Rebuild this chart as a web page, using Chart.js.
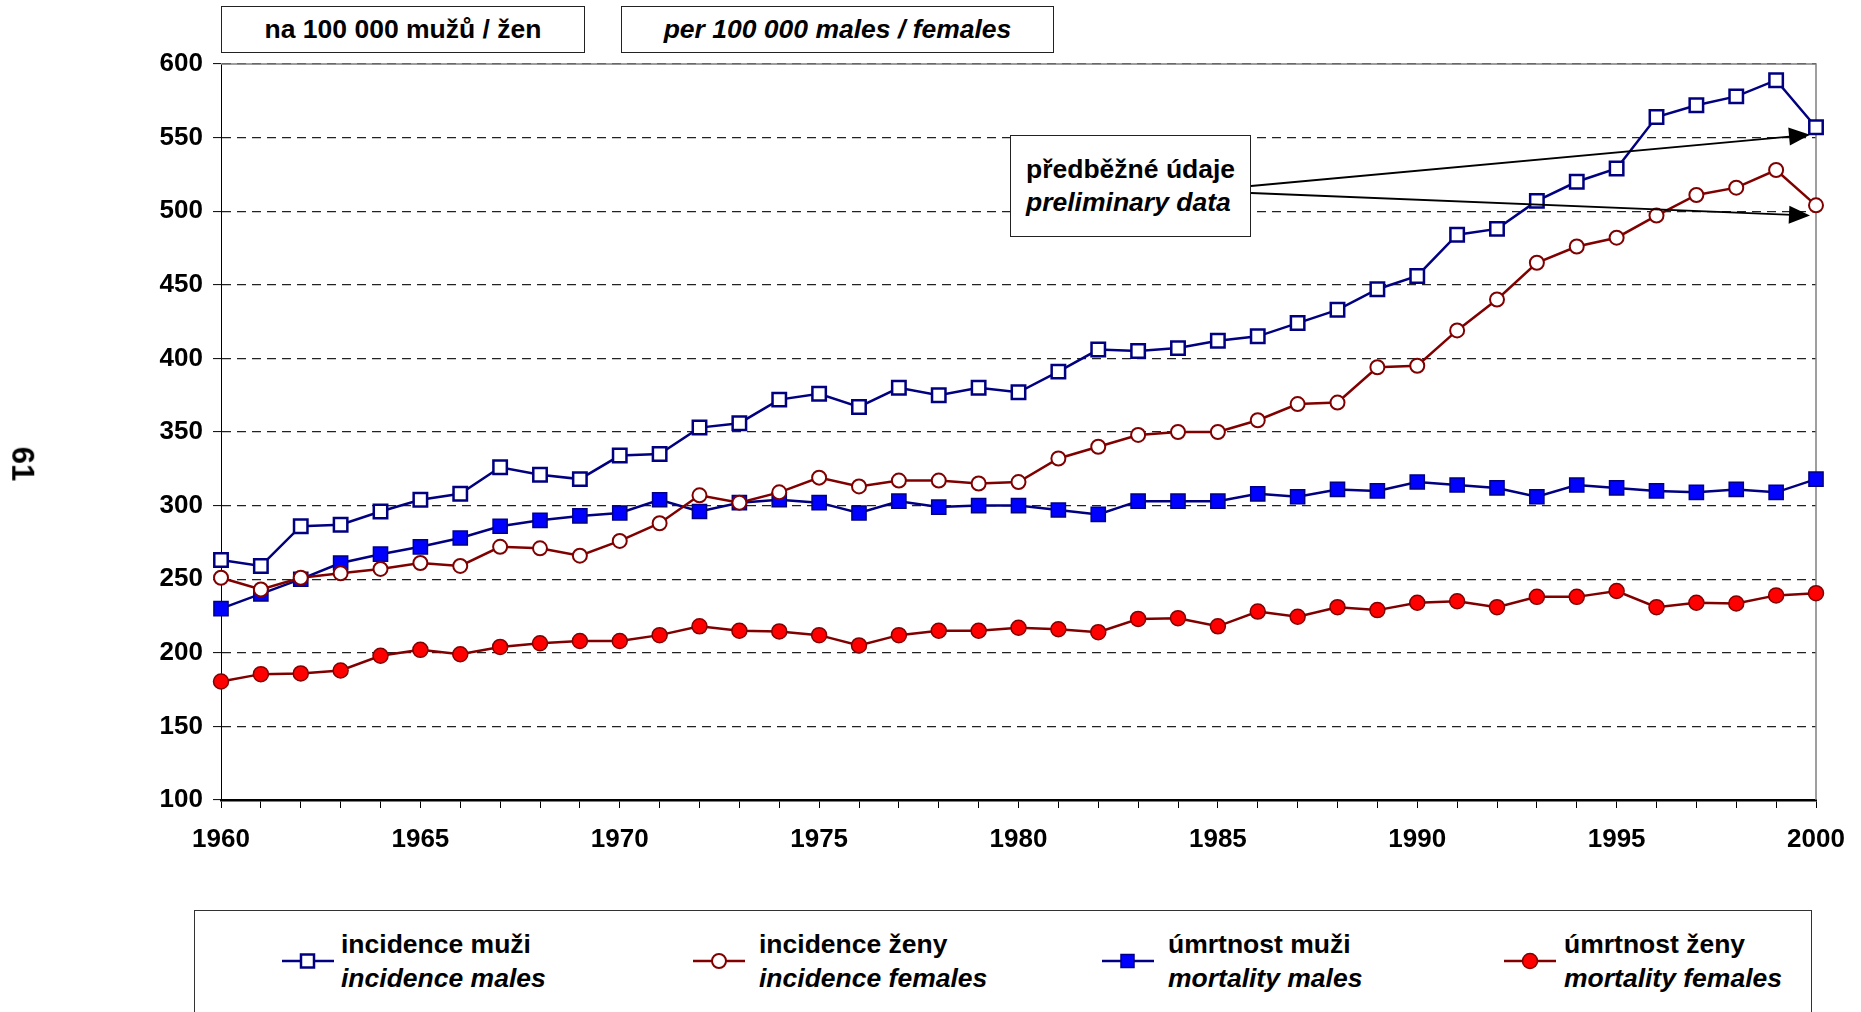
<!DOCTYPE html>
<html>
<head>
<meta charset="utf-8">
<script src="https://cdn.jsdelivr.net/npm/chart.js@4.4.0/dist/chart.umd.min.js"></script>
<style>
  body { margin: 0; background: #fff; font-family: "Liberation Sans", Arial, sans-serif; }
  #wrap { position: relative; width: 1861px; height: 1012px; overflow: hidden; }
  canvas { position: absolute; left: 0; top: 0; }
  .box { position: absolute; border: 1.5px solid #222; background: #fff; box-sizing: border-box;
         font-weight: bold; font-size: 26.5px; color: #000; }
  .top { top: 6px; height: 47px; line-height: 44px; text-align: center; }
  .note { left: 1010px; top: 135px; width: 241px; height: 102px; padding: 17px 0 0 15px; line-height: 33px; }
  .legend { left: 194px; top: 910px; width: 1618px; height: 130px; border-color: #333; }
  .item { position: absolute; top: 16px; line-height: 34px; }
  .item svg { position: absolute; top: 24px; }
  .page { position: absolute; left: 5px; top: 446px; font-weight: bold; font-size: 31px; transform: rotate(90deg); }
  i { font-style: italic; }
</style>
</head>
<body>
<div id="wrap">
  <canvas id="chart" width="1861" height="1012"></canvas>
  <div class="box top" style="left:221px;width:364px;">na 100 000 mužů / žen</div>
  <div class="box top" style="left:621px;width:433px;"><i>per 100 000 males / females</i></div>
  <div class="box note">předběžné údaje<br><i>preliminary data</i></div>
  <div class="box legend" id="legend"></div>
  <div class="page">61</div>
</div>
<script>
// years and values (per 100 000)
const years = [];
for (let y = 1960; y <= 2000; y++) years.push(y);

const incidenceMales = [263, 259, 286, 287, 296, 304, 308, 326, 321, 318,
  334, 335, 353, 356, 372, 376, 367, 380, 375, 380,
  377, 391, 406, 405, 407, 412, 415, 424, 433, 447,
  456, 484, 488, 507, 520, 529, 564, 572, 578, 589, 557];

const incidenceFemales = [251, 243, 251, 254, 257, 261, 259, 272, 271, 266,
  276, 288, 307, 302, 309, 319, 313, 317, 317, 315,
  316, 332, 340, 348, 350, 350, 358, 369, 370, 394,
  395, 419, 440, 465, 476, 482, 497, 511, 516, 528, 504];

const mortalityMales = [230, 240, 250, 261, 267, 272, 278, 286, 290, 293,
  295, 304, 296, 302, 304, 302, 295, 303, 299, 300,
  300, 297, 294, 303, 303, 303, 308, 306, 311, 310,
  316, 314, 312, 306, 314, 312, 310, 309, 311, 309, 318];

const mortalityFemales = [180.5, 185.5, 186, 188, 198, 202, 199, 204, 206.5, 208,
  208, 212, 218, 215, 214.5, 212, 205, 212, 215, 215,
  217, 216, 214, 223, 223.5, 218, 228, 224.5, 231, 229,
  234, 235, 231, 238, 238, 242, 231, 234, 233.5, 239, 240.5];

const labelsCz = ['incidence muži', 'incidence ženy', 'úmrtnost muži', 'úmrtnost ženy'];
const labelsEn = ['incidence males', 'incidence females', 'mortality males', 'mortality females'];
const yTicks = [100, 150, 200, 250, 300, 350, 400, 450, 500, 550, 600];

const navy = '#000080', darkRed = '#800000';
const font = { family: '"Liberation Sans", Arial, sans-serif', size: 26, weight: 'bold' };

// gray frame on top/right plus the two "preliminary data" arrows
const extras = {
  id: 'extras',
  beforeDatasetsDraw(chart) {
    const { ctx, chartArea: a } = chart;
    ctx.save();
    ctx.strokeStyle = '#808080';
    ctx.lineWidth = 1.5;
    ctx.beginPath();
    ctx.moveTo(a.left, a.top);
    ctx.lineTo(a.right, a.top);
    ctx.lineTo(a.right, a.bottom);
    ctx.stroke();
    ctx.restore();
  },
  afterDraw(chart) {
    const { ctx } = chart;
    const x = chart.scales.x.getPixelForValue(years.length - 1) - 6;
    const tips = [[1251, 186, chart.scales.y.getPixelForValue(552)],
                  [1251, 193, chart.scales.y.getPixelForValue(497)]];
    ctx.save();
    ctx.strokeStyle = '#000';
    ctx.fillStyle = '#000';
    ctx.lineWidth = 1.8;
    tips.forEach(([sx, sy, ty]) => {
      const ang = Math.atan2(ty - sy, x - sx);
      ctx.beginPath();
      ctx.moveTo(sx, sy);
      ctx.lineTo(x - 18 * Math.cos(ang), ty - 18 * Math.sin(ang));
      ctx.stroke();
      ctx.beginPath();
      ctx.moveTo(x, ty);
      ctx.lineTo(x - 21 * Math.cos(ang) + 9 * Math.sin(ang), ty - 21 * Math.sin(ang) - 9 * Math.cos(ang));
      ctx.lineTo(x - 21 * Math.cos(ang) - 9 * Math.sin(ang), ty - 21 * Math.sin(ang) + 9 * Math.cos(ang));
      ctx.closePath();
      ctx.fill();
    });
    ctx.restore();
  }
};

const styles = [
  { color: navy, bg: '#fff', shape: 'rect', r: 9.5, bw: 2.5 },
  { color: darkRed, bg: '#fff', shape: 'circle', r: 7, bw: 2 },
  { color: navy, bg: '#0000FF', shape: 'rect', r: 10, bw: 1.5 },
  { color: darkRed, bg: '#FF0000', shape: 'circle', r: 7.5, bw: 1.5 }
];
const series = [incidenceMales, incidenceFemales, mortalityMales, mortalityFemales];

new Chart(document.getElementById('chart'), {
  type: 'line',
  data: {
    labels: years,
    datasets: series.map((d, i) => ({
      label: labelsCz[i],
      data: d,
      borderColor: styles[i].color,
      borderWidth: 2.5,
      pointStyle: styles[i].shape,
      pointRadius: styles[i].r,
      pointBackgroundColor: styles[i].bg,
      pointBorderColor: styles[i].color,
      pointBorderWidth: styles[i].bw,
      tension: 0
    }))
  },
  options: {
    responsive: false,
    animation: false,
    devicePixelRatio: 1,
    layout: { padding: { left: 0, top: 64, right: 45, bottom: 112 } },
    plugins: { legend: { display: false }, tooltip: { enabled: false } },
    scales: {
      x: {
        offset: false,
        afterFit(s) { s.height = 100; },
        grid: { drawOnChartArea: false, drawTicks: true, tickLength: 8, tickColor: '#000', tickWidth: 1 },
        border: { color: '#000', width: 2.5 },
        ticks: {
          autoSkip: false, maxRotation: 0, padding: 16, color: '#000', font,
          callback(v, i) { return years[i] % 5 === 0 ? String(years[i]) : ''; }
        }
      },
      y: {
        min: 100, max: 600,
        afterFit(s) { s.width = 221; },
        afterBuildTicks(s) { s.ticks = yTicks.map(v => ({ value: v })); },
        grid: { color: '#222', lineWidth: 1.2, tickLength: 8, tickColor: '#000', tickWidth: 1, tickBorderDash: [] },
        border: { color: '#000', width: 1, dash: [9, 6] },
        ticks: { padding: 10, color: '#000', font }
      }
    }
  },
  plugins: [extras]
});

// legend built as html, two lines per item
const legend = document.getElementById('legend');
const legendX = [87, 498, 907, 1309];
const textGap = [59, 66, 66, 60];
styles.forEach((s, i) => {
  const item = document.createElement('div');
  item.className = 'item';
  item.style.left = legendX[i] + 'px';
  const mk = s.shape === 'rect'
    ? `<rect x="19" y="3.5" width="13" height="13" fill="${s.bg}" stroke="${s.color}" stroke-width="${s.bw}"/>`
    : `<circle cx="26" cy="10" r="${s.r}" fill="${s.bg}" stroke="${s.color}" stroke-width="${s.bw}"/>`;
  item.innerHTML = `<svg width="52" height="20" style="left:0"><line x1="0" y1="10" x2="52" y2="10" stroke="${s.color}" stroke-width="2.5"/>${mk}</svg>` +
    `<div style="margin-left:${textGap[i]}px;white-space:nowrap">${labelsCz[i]}<br><i>${labelsEn[i]}</i></div>`;
  legend.appendChild(item);
});
</script>
</body>
</html>
